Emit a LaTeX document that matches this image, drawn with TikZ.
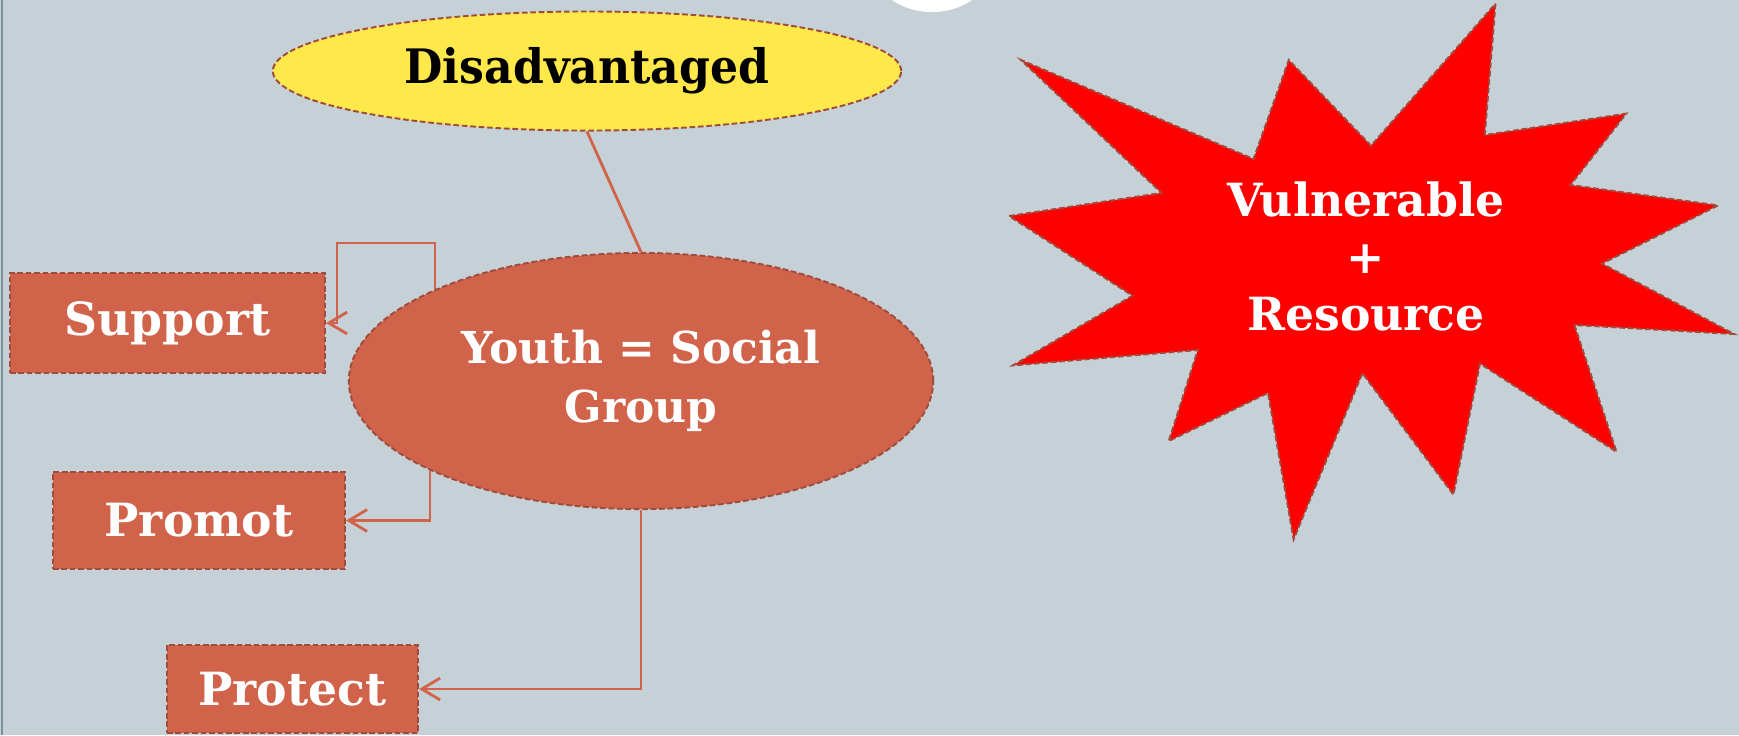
\documentclass[tikz,border=0pt]{standalone}
\usepackage{fontspec}
\setmainfont{DejaVu Serif}
\usetikzlibrary{shapes.geometric,arrows.meta}
\definecolor{bgc}{HTML}{C5D1D7}
\definecolor{edgec}{HTML}{7C9098}
\definecolor{yel}{HTML}{FFE84A}
\definecolor{terra}{HTML}{D0634A}
\definecolor{bord}{HTML}{A04C3C}
\definecolor{starred}{HTML}{FF0000}
\tikzset{
  dashbord/.style={draw=bord, line width=0.55pt, dash pattern=on 1.6pt off 0.8pt},
  boxnode/.style={dashbord, fill=terra, rectangle, inner sep=0pt, text=white,
    font=\bfseries\fontsize{13}{16}\selectfont},
  ellnode/.style={dashbord, ellipse, inner sep=0pt},
  conn/.style={draw=terra, line width=0.8pt},
  arr/.style={conn, -{Straight Barb[length=5.2pt,width=6.2pt]}},
}
\begin{document}
\begin{tikzpicture}[x=0.01cm,y=-0.01cm]
\useasboundingbox (0,0) rectangle (1739,735);
\clip (0,0) rectangle (1739,735);
\fill[bgc] (0,0) rectangle (1739,735);
\draw[edgec, line width=0.6pt] (2,0) -- (2,735);
\fill[white] (932,-61) circle [radius=0.73cm];
% star
\draw[dashbord, fill=starred] (1495.5,3.6) -- (1484.8,135) -- (1626.2,113.6) -- (1570.5,185)
  -- (1718.1,205.4) -- (1602,263.6) -- (1734,334) -- (1574.4,325) -- (1616.5,451.8)
  -- (1480,363.6) -- (1453.4,494.6) -- (1362.4,373.2) -- (1293.6,539.3) -- (1268,392.9)
  -- (1168.8,441) -- (1197.8,350) -- (1012.9,365.4) -- (1132.5,295.7) -- (1009,216)
  -- (1161.5,192.9) -- (1021,60) -- (1253.5,159) -- (1288.8,60) -- (1371,145.7) -- cycle;
\node[text=white, align=center, font=\bfseries\fontsize{13}{16.2}\selectfont] (vul) at (1366,256)
  {Vulnerable\\+\\Resource};
% nodes
\node[ellnode, fill=yel, minimum width=6.28cm, minimum height=1.19cm,
  font=\bfseries\fontsize{13.5}{16}\selectfont] (dis) at (587,71) {\scalebox{0.93}[1]{Disadvantaged}};
\node[ellnode, fill=terra, text=white, align=center, minimum width=5.84cm, minimum height=2.56cm,
  font=\bfseries\fontsize{12.5}{16.8}\selectfont] (youth) at (641,381) {Youth = Social\\Group};
\node[boxnode, minimum width=3.15cm, minimum height=1.0cm] (support) at (167.5,323) {Support};
\node[boxnode, minimum width=2.92cm, minimum height=0.97cm] (promot) at (199,520.5) {Promot};
\node[boxnode, minimum width=2.51cm, minimum height=0.88cm] (protect) at (292.5,689) {Protect};
% connectors
\draw[conn] (dis.south) -- (youth.north);
\draw[arr] (youth.156.5) |- (337,243) |- (support.east);
\draw[arr] (youth.203.5) |- (promot.east);
\draw[arr] (youth.south) |- (protect.east);
\end{tikzpicture}
\end{document}
